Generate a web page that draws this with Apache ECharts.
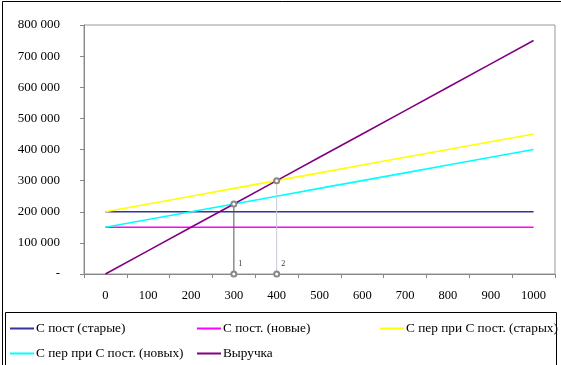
<!DOCTYPE html>
<html><head><meta charset="utf-8">
<script src="https://cdn.jsdelivr.net/npm/echarts@6/dist/echarts.min.js"></script>
<style>html,body{margin:0;padding:0;background:#fff}#c{width:561px;height:365px}</style>
</head><body><div id="c"></div>
<script>
const categories = ['0','100','200','300','400','500','600','700','800','900','1000'];
const fixedOld = [200000,200000,200000,200000,200000,200000,200000,200000,200000,200000,200000];
const fixedNew = [150000,150000,150000,150000,150000,150000,150000,150000,150000,150000,150000];
const totalOld = [200000,225000,250000,275000,300000,325000,350000,375000,400000,425000,450000];
const totalNew = [150000,175000,200000,225000,250000,275000,300000,325000,350000,375000,400000];
const revenue  = [0,75000,150000,225000,300000,375000,450000,525000,600000,675000,750000];
const breakEven1 = [['300',225000],['300',0]];
const breakEven2 = [['400',300000],['400',0]];
const seriesNames = ['С пост (старые)','С пост. (новые)','С пер при С пост. (старых)','С пер при С пост. (новых)','Выручка'];

const font = '"Liberation Serif", "Times New Roman", serif';
const colors = ['#333399','#ff00ff','#ffff00','#00ffff','#800080'];
const values = [fixedOld, fixedNew, totalOld, totalNew, revenue];

function fmt(v){ if(v===0) return '-'; return String(v).replace(/\B(?=(\d{3})+(?!\d))/g,' '); }

const series = seriesNames.map((n,i)=>({
  name:n, type:'line', data:values[i], symbol:'none', silent:true,
  lineStyle:{color:colors[i], width:1.6}, itemStyle:{color:colors[i]}, z:3
}));
function marker(data, lineColor, lbl){
  return {
    type:'line', data:data.map((d,j)=>j===1?{value:d,label:{show:true,formatter:lbl,position:'right',offset:[-4,-10],fontSize:8,fontFamily:font,color:'#333'}}:d),
    symbol:'emptyCircle', symbolSize:5, silent:true,
    lineStyle:{color:lineColor,width:1}, itemStyle:{color:'#888',borderWidth:1}, z:4
  };
}
series.push(marker(breakEven1,'#555555','1'));
series.push(marker(breakEven2,'#c8c8dc','2'));

const legendPos = [[10,322],[197,322],[380,322],[10,347],[197,347]];
const legends = seriesNames.map((n,i)=>({
  data:[n], left:legendPos[i][0], top:legendPos[i][1], padding:0, icon:'rect', itemWidth:24, itemHeight:2, itemGap:3,
  textStyle:{fontFamily:font,fontSize:13.3,color:'#000',padding:[0,0,0,-3]}, selectedMode:false
}));

const chart = echarts.init(document.getElementById('c'),null,{renderer:'canvas'});
chart.setOption({
  animation:false,
  backgroundColor:'#fff',
  legend:legends,
  grid:{left:84,right:6,top:25,bottom:91,show:true,borderColor:'#999',borderWidth:1},
  xAxis:{type:'category',data:categories,boundaryGap:true,
    axisLine:{lineStyle:{color:'#888',width:1}},
    axisTick:{show:true,length:4,lineStyle:{color:'#888'}},
    axisLabel:{fontFamily:font,fontSize:12.5,color:'#000',margin:15}},
  yAxis:{type:'value',min:0,max:800000,interval:100000,
    splitLine:{show:false},
    axisLine:{show:true,lineStyle:{color:'#888',width:1}},
    axisTick:{show:true,length:4,lineStyle:{color:'#888'}},
    axisLabel:{fontFamily:font,fontSize:13,color:'#000',margin:24,formatter:v=>fmt(v)}},
  series:series,
  graphic:[
    {type:'rect',shape:{x:2.5,y:1.5,width:600,height:400},style:{fill:null,stroke:'#000',lineWidth:1},silent:true,z:0},
    {type:'rect',shape:{x:5.5,y:312.5,width:551,height:100},style:{fill:null,stroke:'#000',lineWidth:1},silent:true,z:0}
  ]
});
</script></body></html>
